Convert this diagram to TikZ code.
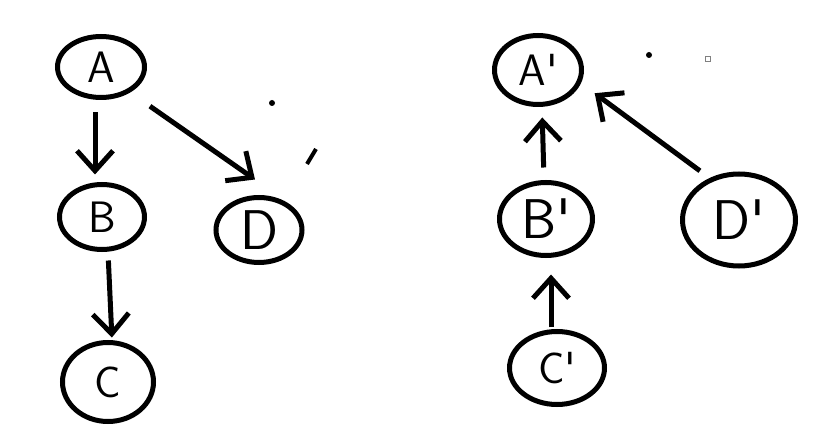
\documentclass[tikz,border=0pt]{standalone}
\usepackage{tikz}
\usetikzlibrary{arrows.meta, shapes.geometric}
\newcommand{\prm}{\textquotesingle}

\begin{document}
\begin{tikzpicture}[
    x=1pt, y=-1pt,
    line width=5pt,
    circ/.style={draw, ellipse, inner sep=0pt, font=\sffamily\fontsize{44}{44}\selectfont},
    big/.style={font=\sffamily\fontsize{56}{56}\selectfont},
    arr/.style={-{Straight Barb[length=20pt, width=36pt]}},
]
\useasboundingbox (0,0) rectangle (814,446);

% ===== left graph =====
\node[circ, minimum width=87pt, minimum height=61pt] (a) at (101,67) {A};
\node[circ, minimum width=85pt, minimum height=65pt] (b) at (102,217) {B};
\node[circ, minimum width=91pt, minimum height=79pt] (c) at (108,382) {C};
\node[circ, big, minimum width=86pt, minimum height=65pt] (d) at (259,230) {D};

\draw[arr, shorten <=12.5pt, shorten >=7.5pt] ([shift={(-6,0)}]a.south) -- ([shift={(-7,0)}]b.north);
\draw[arr, shorten <=24pt] (a.-41) -- ([shift={(-4,-15.5)}]d.north);
\draw[arr, shorten <=8.5pt, shorten >=2.5pt] ([shift={(6,0)}]b.south) -- ([shift={(4,0)}]c.north);

% ===== right graph =====
\node[circ, minimum width=87pt, minimum height=69pt] (a2) at (538,70) {A\prm};
\node[circ, big, minimum width=93pt, minimum height=73pt] (b2) at (546,219) {B\prm};
\node[circ, minimum width=95pt, minimum height=73pt] (c2) at (557,368) {C\prm};
\node[circ, big, minimum width=113pt, minimum height=92pt] (d2) at (739,220) {D\prm};

\draw[arr, shorten <=12.5pt, shorten >=10.5pt] ([shift={(-2,0)}]b2.north) -- ([shift={(4,0)}]a2.south);
\draw[arr, shorten <=1.5pt, shorten >=16.5pt] ([shift={(-6,0)}]c2.north) -- ([shift={(5,0)}]b2.south);
\draw[arr, shorten <=12pt, shorten >=17pt] (d2.125) -- (a2.-17);

% stray marks
\fill (272,103) circle (3);
\draw[line width=4pt] (307,164) -- (316,149);
\fill (649,55) circle (3);
\draw[gray, line width=1.2pt] (705.5,56.5) rectangle (710.5,61.5);

\end{tikzpicture}
\end{document}
